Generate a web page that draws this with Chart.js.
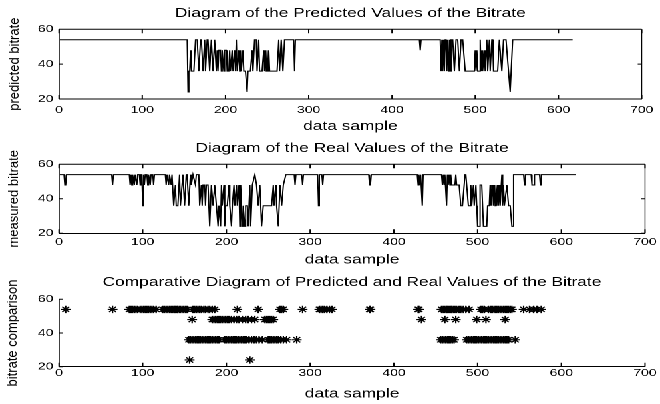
<!DOCTYPE html>
<html>
<head>
<meta charset="utf-8">
<script src="https://cdn.jsdelivr.net/npm/chart.js@4.4.1/dist/chart.umd.min.js"></script>
<style>
  html, body { margin: 0; padding: 0; background: #fff; }
  /* the source figure is a MATLAB export widened sideways, so draw narrow and stretch */
  #wrap { position: absolute; left: 0; top: 0; width: 496px; height: 404px; transform: scaleX(1.330645); transform-origin: 0 0; }
  .panel { position: absolute; left: 0; width: 496px; }
</style>
</head>
<body>
<div id="wrap">
  <div class="panel" style="top:0;height:135px"><canvas id="predChart"></canvas></div>
  <div class="panel" style="top:135px;height:135px"><canvas id="realChart"></canvas></div>
  <div class="panel" style="top:270px;height:134px"><canvas id="cmpChart"></canvas></div>
</div>
<script>
const STRETCH = 660 / 496;

const xTickValues = [0, 100, 200, 300, 400, 500, 600, 700];
const yTickValues = [20, 40, 60];

const titles = [
    'Diagram of the Predicted Values of the Bitrate',
    'Diagram of the Real Values of the Bitrate',
    'Comparative Diagram of Predicted and Real Values of the Bitrate'
];
const yLabels = ['predicted bitrate', 'measured bitrate', 'bitrate comparison'];
const xLabel = 'data sample';

// [sample, bitrate] at every change of the predicted series
const predicted = [
    [1,54],[154,54],[155,24],[156,36],[157,36],[158,48],[159,36],[162,36],[164,54],[166,54],
    [168,36],[170,54],[171,54],[173,36],[175,54],[176,36],[178,54],[179,54],[181,36],[183,54],
    [185,36],[187,54],[189,36],[190,48],[191,36],[192,48],[194,48],[195,36],[196,48],[198,36],
    [199,48],[201,48],[202,36],[204,36],[205,48],[206,36],[208,48],[209,36],[211,48],[212,36],
    [213,54],[214,36],[216,48],[217,36],[218,48],[219,36],[221,48],[222,36],[224,36],[226,24],
    [227,36],[230,36],[232,48],[233,36],[235,54],[237,54],[238,36],[240,54],[241,36],[244,36],
    [246,48],[247,36],[248,48],[249,36],[250,48],[251,36],[252,48],[253,36],[262,36],[264,54],
    [265,36],[267,54],[268,54],[269,36],[271,54],[282,54],[283,36],[284,54],[433,54],[434,48],
    [435,54],[458,54],[459,36],[460,54],[461,36],[462,54],[463,36],[464,54],[465,54],[466,36],
    [467,54],[468,36],[469,54],[470,36],[471,54],[473,54],[475,36],[477,54],[479,54],[481,36],
    [483,54],[485,54],[488,36],[499,36],[500,48],[501,36],[502,48],[503,36],[505,36],[506,54],
    [507,36],[508,48],[509,36],[511,48],[512,36],[514,54],[515,36],[517,54],[518,36],[520,54],
    [521,54],[522,36],[527,36],[529,54],[530,54],[532,36],[534,54],[537,54],[542,24],[545,54],
    [617,54]
];

// [sample, bitrate] at every change of the measured series
const measured = [
    [1,54],[6,54],[7,48],[8,48],[9,54],[63,54],[64,48],[65,54],[84,54],[85,48],
    [86,54],[87,48],[88,54],[90,48],[91,54],[93,48],[94,54],[96,54],[97,48],[98,54],
    [99,54],[100,36],[101,54],[102,48],[103,54],[105,54],[106,48],[107,54],[109,48],[110,54],
    [112,54],[113,48],[114,54],[127,54],[128,48],[129,54],[131,48],[132,54],[134,48],[135,54],
    [136,54],[137,36],[139,48],[140,36],[142,36],[144,54],[145,36],[147,48],[148,54],[150,36],
    [152,54],[153,54],[155,36],[157,54],[158,48],[160,54],[161,54],[163,48],[164,54],[167,54],
    [168,36],[170,48],[171,36],[172,48],[174,48],[175,36],[176,48],[178,48],[180,24],[182,48],
    [184,36],[186,48],[188,36],[190,24],[191,36],[193,24],[194,48],[195,36],[197,48],[198,24],
    [199,36],[201,36],[203,48],[204,36],[206,24],[207,36],[209,48],[210,36],[212,48],[213,36],
    [215,48],[216,24],[217,48],[218,36],[219,24],[220,36],[222,24],[223,36],[225,36],[226,24],
    [228,48],[229,24],[231,48],[234,54],[236,48],[238,36],[240,48],[242,24],[244,36],[247,36],
    [254,36],[256,48],[257,36],[259,48],[260,36],[262,24],[264,48],[266,36],[268,48],[271,54],
    [281,54],[282,48],[283,54],[290,54],[291,48],[292,54],[309,54],[310,36],[311,54],[314,54],
    [315,48],[316,54],[370,54],[371,48],[372,48],[373,54],[428,54],[429,48],[430,54],[431,48],
    [432,54],[433,54],[434,36],[435,54],[457,54],[458,48],[459,54],[460,48],[461,54],[462,54],
    [463,36],[464,54],[465,48],[466,54],[467,48],[468,54],[469,48],[473,48],[474,54],[475,48],
    [478,48],[480,36],[482,36],[485,54],[486,54],[489,36],[491,36],[492,48],[493,36],[495,48],
    [496,36],[498,48],[499,36],[500,24],[502,24],[503,48],[505,48],[507,24],[511,24],[512,36],
    [514,36],[515,48],[516,36],[518,48],[519,36],[520,48],[521,36],[522,48],[523,36],[524,48],
    [525,36],[526,48],[527,36],[529,54],[530,36],[531,48],[532,36],[535,48],[537,36],[539,36],
    [541,24],[542,24],[543,54],[555,54],[556,48],[557,54],[564,54],[565,48],[567,48],[568,54],
    [574,54],[575,48],[576,54],[617,54]
];

// samples marked in the comparison plot, per bitrate level
const cmp54 = [8, 64, 84, 86, 88, 90, 92, 94, 97, 99, 101, 103, 105, 107, 109, 111, 113, 116,
    124, 126, 128, 130, 132, 134, 136, 138, 139, 141, 142, 144, 145, 147, 149, 151, 153,
    160, 162, 164, 166, 168, 170, 173, 175, 178, 180, 183, 186, 213, 238, 264, 266, 268, 291,
    311, 313, 315, 317, 320, 323, 326, 371, 372, 429, 430,
    457, 459, 461, 463, 464, 466, 468, 469, 471, 473, 475, 478, 480, 483, 486, 490,
    504, 506, 508, 513, 516, 518, 521, 523, 525, 527, 529, 531, 533, 535, 537, 539, 541,
    555, 562, 567, 571, 576];
const cmp48 = [159, 183, 185, 187, 189, 191, 193, 195, 197, 199, 201, 203, 206, 209, 212, 215,
    219, 223, 226, 230, 234, 246, 248, 250, 252, 254, 256, 433, 461, 474, 499, 510, 533];
const cmp36 = [155, 157, 159, 161, 163, 165, 167, 169, 171, 173, 175, 177, 179, 181, 183, 185,
    187, 189, 191, 198, 200, 202, 204, 206, 208, 210, 212, 214, 216, 218, 220, 222, 224, 227,
    230, 233, 236, 239, 243, 250, 252, 254, 256, 258, 260, 262, 265, 268, 272, 284,
    456, 458, 460, 462, 464, 466, 468, 470, 472, 487, 489, 491, 493, 495, 497, 499, 501, 503,
    505, 507, 509, 511, 513, 515, 517, 519, 521, 523, 525, 527, 529, 531, 533, 535, 537, 545];
const cmp24 = [156, 228];

Chart.defaults.font.family = '"Liberation Sans", Arial, Helvetica, sans-serif';
Chart.defaults.color = '#000';
Chart.defaults.animation = false;

// inward MATLAB-style ticks, the box and the rotated y label (kept unstretched)
function axesFrame(boxed, yLabel, yLabelX) {
    return {
        id: 'axesFrame',
        afterDatasetsDraw(chart) {
            const { ctx, chartArea: a, scales: { x, y } } = chart;
            ctx.save();
            ctx.strokeStyle = '#000';
            ctx.lineWidth = 1;
            ctx.beginPath();
            if (boxed) {
                ctx.moveTo(a.left, a.top);
                ctx.lineTo(a.right, a.top);
            }
            xTickValues.forEach(v => {
                const px = x.getPixelForValue(v);
                ctx.moveTo(px, a.bottom);
                ctx.lineTo(px, a.bottom - 4);
                if (boxed) {
                    ctx.moveTo(px, a.top);
                    ctx.lineTo(px, a.top + 4);
                }
            });
            yTickValues.forEach(v => {
                const py = y.getPixelForValue(v);
                ctx.moveTo(a.left, py);
                ctx.lineTo(a.left + 4 / STRETCH, py);
                if (boxed) {
                    ctx.moveTo(a.right, py);
                    ctx.lineTo(a.right - 4 / STRETCH, py);
                }
            });
            ctx.stroke();
            if (boxed) {
                ctx.lineWidth = 1 / STRETCH;
                ctx.beginPath();
                ctx.moveTo(a.right, a.top);
                ctx.lineTo(a.right, a.bottom);
                ctx.stroke();
            }
            ctx.translate(yLabelX, (a.top + a.bottom) / 2);
            ctx.scale(1 / STRETCH, 1);
            ctx.rotate(-Math.PI / 2);
            ctx.font = '13px "Liberation Sans", Arial, sans-serif';
            ctx.fillStyle = '#000';
            ctx.textAlign = 'center';
            ctx.textBaseline = 'middle';
            ctx.fillText(yLabel, 0, 0);
            ctx.restore();
        }
    };
}

function makeChart(canvasId, cfg) {
    return new Chart(document.getElementById(canvasId), {
        type: cfg.type,
        data: { datasets: [cfg.dataset] },
        options: {
            responsive: true,
            maintainAspectRatio: false,
            devicePixelRatio: 2,
            layout: { padding: { left: 0, right: 11.27, top: 0, bottom: 0 } },
            plugins: {
                legend: { display: false },
                tooltip: { enabled: false },
                title: {
                    display: true,
                    text: cfg.title,
                    fullSize: false,
                    color: '#000',
                    font: { size: 13, weight: 'normal' },
                    padding: { top: cfg.titleTop, bottom: cfg.titleBottom }
                }
            },
            scales: {
                x: {
                    type: 'linear',
                    min: 0,
                    max: 700,
                    grid: { display: false, drawTicks: false },
                    border: { display: true, color: '#000', width: 1 },
                    ticks: { padding: cfg.xTickPad, font: { size: 10.5 }, maxRotation: 0, autoSkip: false },
                    afterBuildTicks: s => { s.ticks = xTickValues.map(v => ({ value: v })); },
                    afterFit: s => { s.height = cfg.xAxisHeight; },
                    title: {
                        display: true,
                        text: xLabel,
                        color: '#000',
                        font: { size: 13 },
                        padding: { top: 0, bottom: cfg.xTitleBottom }
                    }
                },
                y: {
                    min: 20,
                    max: 60,
                    grid: { display: false, drawTicks: false },
                    border: { display: true, color: '#000', width: 1 / STRETCH },
                    ticks: { padding: 4.3, font: { size: 10.5 } },
                    afterBuildTicks: s => { s.ticks = yTickValues.map(v => ({ value: v })); },
                    afterFit: s => { s.width = 44.34; }
                }
            }
        },
        plugins: [axesFrame(cfg.boxed, cfg.yLabel, cfg.yLabelX)]
    });
}

const toPoints = pairs => pairs.map(([x, y]) => ({ x, y }));

makeChart('predChart', {
    type: 'line',
    title: titles[0],
    yLabel: yLabels[0],
    yLabelX: 11.3,
    boxed: true,
    titleTop: 5.7, titleBottom: 8,
    xTickPad: 5, xAxisHeight: 36, xTitleBottom: 0.7,
    dataset: {
        data: toPoints(predicted),
        borderColor: '#000',
        borderWidth: 1,
        pointRadius: 0,
        tension: 0,
        fill: false
    }
});

makeChart('realChart', {
    type: 'line',
    title: titles[1],
    yLabel: yLabels[1],
    yLabelX: 11,
    boxed: true,
    titleTop: 5.7, titleBottom: 8,
    xTickPad: 2.4, xAxisHeight: 36.7, xTitleBottom: 2.2,
    dataset: {
        data: toPoints(measured),
        borderColor: '#000',
        borderWidth: 1,
        pointRadius: 0,
        tension: 0,
        fill: false
    }
});

const cmpPoints = []
    .concat(cmp54.map(x => ({ x, y: 54 })))
    .concat(cmp48.map(x => ({ x, y: 48 })))
    .concat(cmp36.map(x => ({ x, y: 36 })))
    .concat(cmp24.map(x => ({ x, y: 24 })));

makeChart('cmpChart', {
    type: 'scatter',
    title: titles[2],
    yLabel: yLabels[2],
    yLabelX: 10,
    boxed: false,
    titleTop: 4.7, titleBottom: 9,
    xTickPad: 0, xAxisHeight: 37.3, xTitleBottom: 2.2,
    dataset: {
        data: cmpPoints,
        showLine: false,
        pointStyle: 'star',
        pointRadius: 3.7,
        borderColor: '#000',
        borderWidth: 1.1,
        backgroundColor: '#000'
    }
});
</script>
</body>
</html>
